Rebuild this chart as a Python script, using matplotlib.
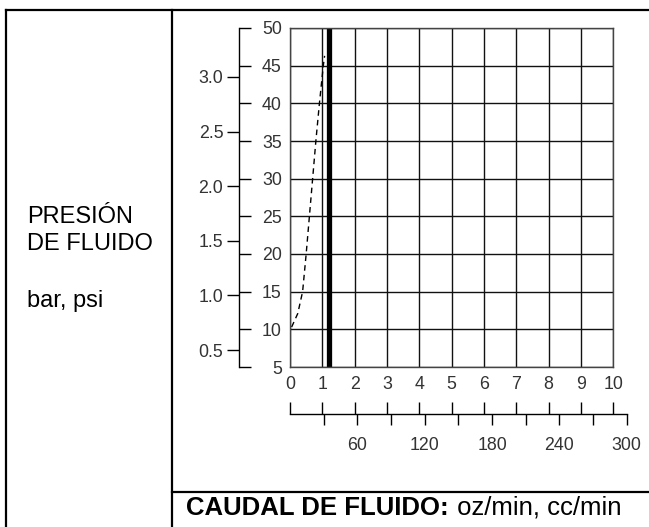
import matplotlib.pyplot as plt
from matplotlib.lines import Line2D

plt.rcParams["font.family"] = ["Liberation Sans", "DejaVu Sans"]

# data
flow_oz_ticks = list(range(0, 11))
flow_cc_ticks = list(range(30, 301, 30))
flow_cc_labels = [str(v) if v % 60 == 0 else "" for v in flow_cc_ticks]
psi_ticks = list(range(5, 51, 5))
bar_ticks = [0.5, 1.0, 1.5, 2.0, 2.5, 3.0]
curve_oz = [0.05, 0.24, 0.39, 0.50, 0.60, 0.70, 0.80, 0.91, 1.03, 1.07]
curve_psi = [10.3, 12.1, 15, 20, 25, 30, 35, 40, 45, 46.3]
max_flow_oz = 1.21
PSI_PER_BAR = 14.5
CC_PER_OZ = 28.8

W, H = 649, 527
TICK_COLOR = "#333333"
TICK_SIZE = 12.8


def box(x0, y0, x1, y1):
    """pixel box (top-left origin) -> figure fraction rect."""
    return [x0 / W, 1 - y1 / H, max(x1 - x0, 0.01) / W, max(y1 - y0, 0.01) / H]


fig = plt.figure(figsize=(W / 100, H / 100), dpi=100)

# table frame
frame_kw = dict(color="black", linewidth=1.6, transform=None)
fig.add_artist(Line2D([6, 6], [0, H - 10], **frame_kw))
fig.add_artist(Line2D([6, W], [H - 10, H - 10], **frame_kw))
fig.add_artist(Line2D([172, 172], [0, H - 10], **frame_kw))
fig.add_artist(Line2D([172, W], [H - 492, H - 492], **frame_kw))

# grid
ax = fig.add_axes(box(290, 28, 613.3, 367))
ax.set_xlim(0, 10)
ax.set_ylim(5, 50)
ax.set_xticks(flow_oz_ticks)
ax.set_yticks(psi_ticks)
ax.tick_params(length=0, labelbottom=False, labelleft=False)
ax.grid(True, color="#111111", linewidth=1.0)
for s in ax.spines.values():
    s.set_color("#444444")
    s.set_linewidth(1.0)
ax.plot(curve_oz, curve_psi, color="black", linewidth=1.0, dashes=(4, 3))
ax.axvline(max_flow_oz, color="black", linewidth=3.8)

# psi / bar axis
axp = fig.add_axes(box(239, 28, 239, 367))
axp.set_ylim(5, 50)
axp.set_xticks([])
axp.patch.set_visible(False)
for k in ("top", "bottom", "left"):
    axp.spines[k].set_visible(False)
axp.spines["right"].set_linewidth(1.0)
axp.yaxis.tick_right()
axp.set_yticks(psi_ticks)
axp.tick_params(axis="y", direction="out", length=8.8, width=1.0, pad=22,
                labelsize=TICK_SIZE, labelcolor=TICK_COLOR)
for lbl in axp.get_yticklabels():
    lbl.set_horizontalalignment("right")

axb = axp.secondary_yaxis("left", functions=(lambda p: p / PSI_PER_BAR,
                                              lambda b: b * PSI_PER_BAR))
axb.set_yticks(bar_ticks)
axb.set_yticklabels([f"{b:.1f}" for b in bar_ticks])
axb.spines["left"].set_visible(False)
axb.tick_params(axis="y", direction="out", length=8.8, width=1.0, pad=2.5,
                labelsize=TICK_SIZE, labelcolor=TICK_COLOR)

# flow axis (oz above, cc below)
cc_max_oz = 300 / CC_PER_OZ
axf = fig.add_axes(box(290, 414, 290 + 323.3 * cc_max_oz / 10, 414))
axf.set_xlim(0, cc_max_oz)
axf.set_yticks([])
axf.patch.set_visible(False)
for k in ("bottom", "left", "right"):
    axf.spines[k].set_visible(False)
axf.spines["top"].set_linewidth(1.0)
axf.xaxis.tick_top()
axf.set_xticks(flow_oz_ticks)
axf.tick_params(axis="x", direction="out", length=8.6, width=1.0, pad=6.5,
                labelsize=TICK_SIZE, labelcolor=TICK_COLOR)

axc = axf.secondary_xaxis("bottom", functions=(lambda o: o * CC_PER_OZ,
                                                lambda c: c / CC_PER_OZ))
axc.set_xticks(flow_cc_ticks)
axc.set_xticklabels(flow_cc_labels)
axc.spines["bottom"].set_visible(False)
axc.tick_params(axis="x", direction="out", length=8.0, width=1.0, pad=8.5,
                labelsize=TICK_SIZE, labelcolor=TICK_COLOR)

# labels
fig.text(27 / W, 1 - 217 / H, "PRESIÓN", fontsize=17, va="center")
fig.text(27 / W, 1 - 244 / H, "DE FLUIDO", fontsize=17, va="center")
fig.text(27 / W, 1 - 301 / H, "bar, psi", fontsize=17, va="center")

t = fig.text(186 / W, 1 - 515 / H, "CAUDAL DE FLUIDO:", fontsize=18.5,
             fontweight="bold", va="baseline")
fig.canvas.draw()
bb = t.get_window_extent()
fig.text((bb.x1 + 1) / W, 1 - 515 / H, " oz/min, cc/min", fontsize=18.5,
         va="baseline")

fig.savefig("out.png", dpi=100)
